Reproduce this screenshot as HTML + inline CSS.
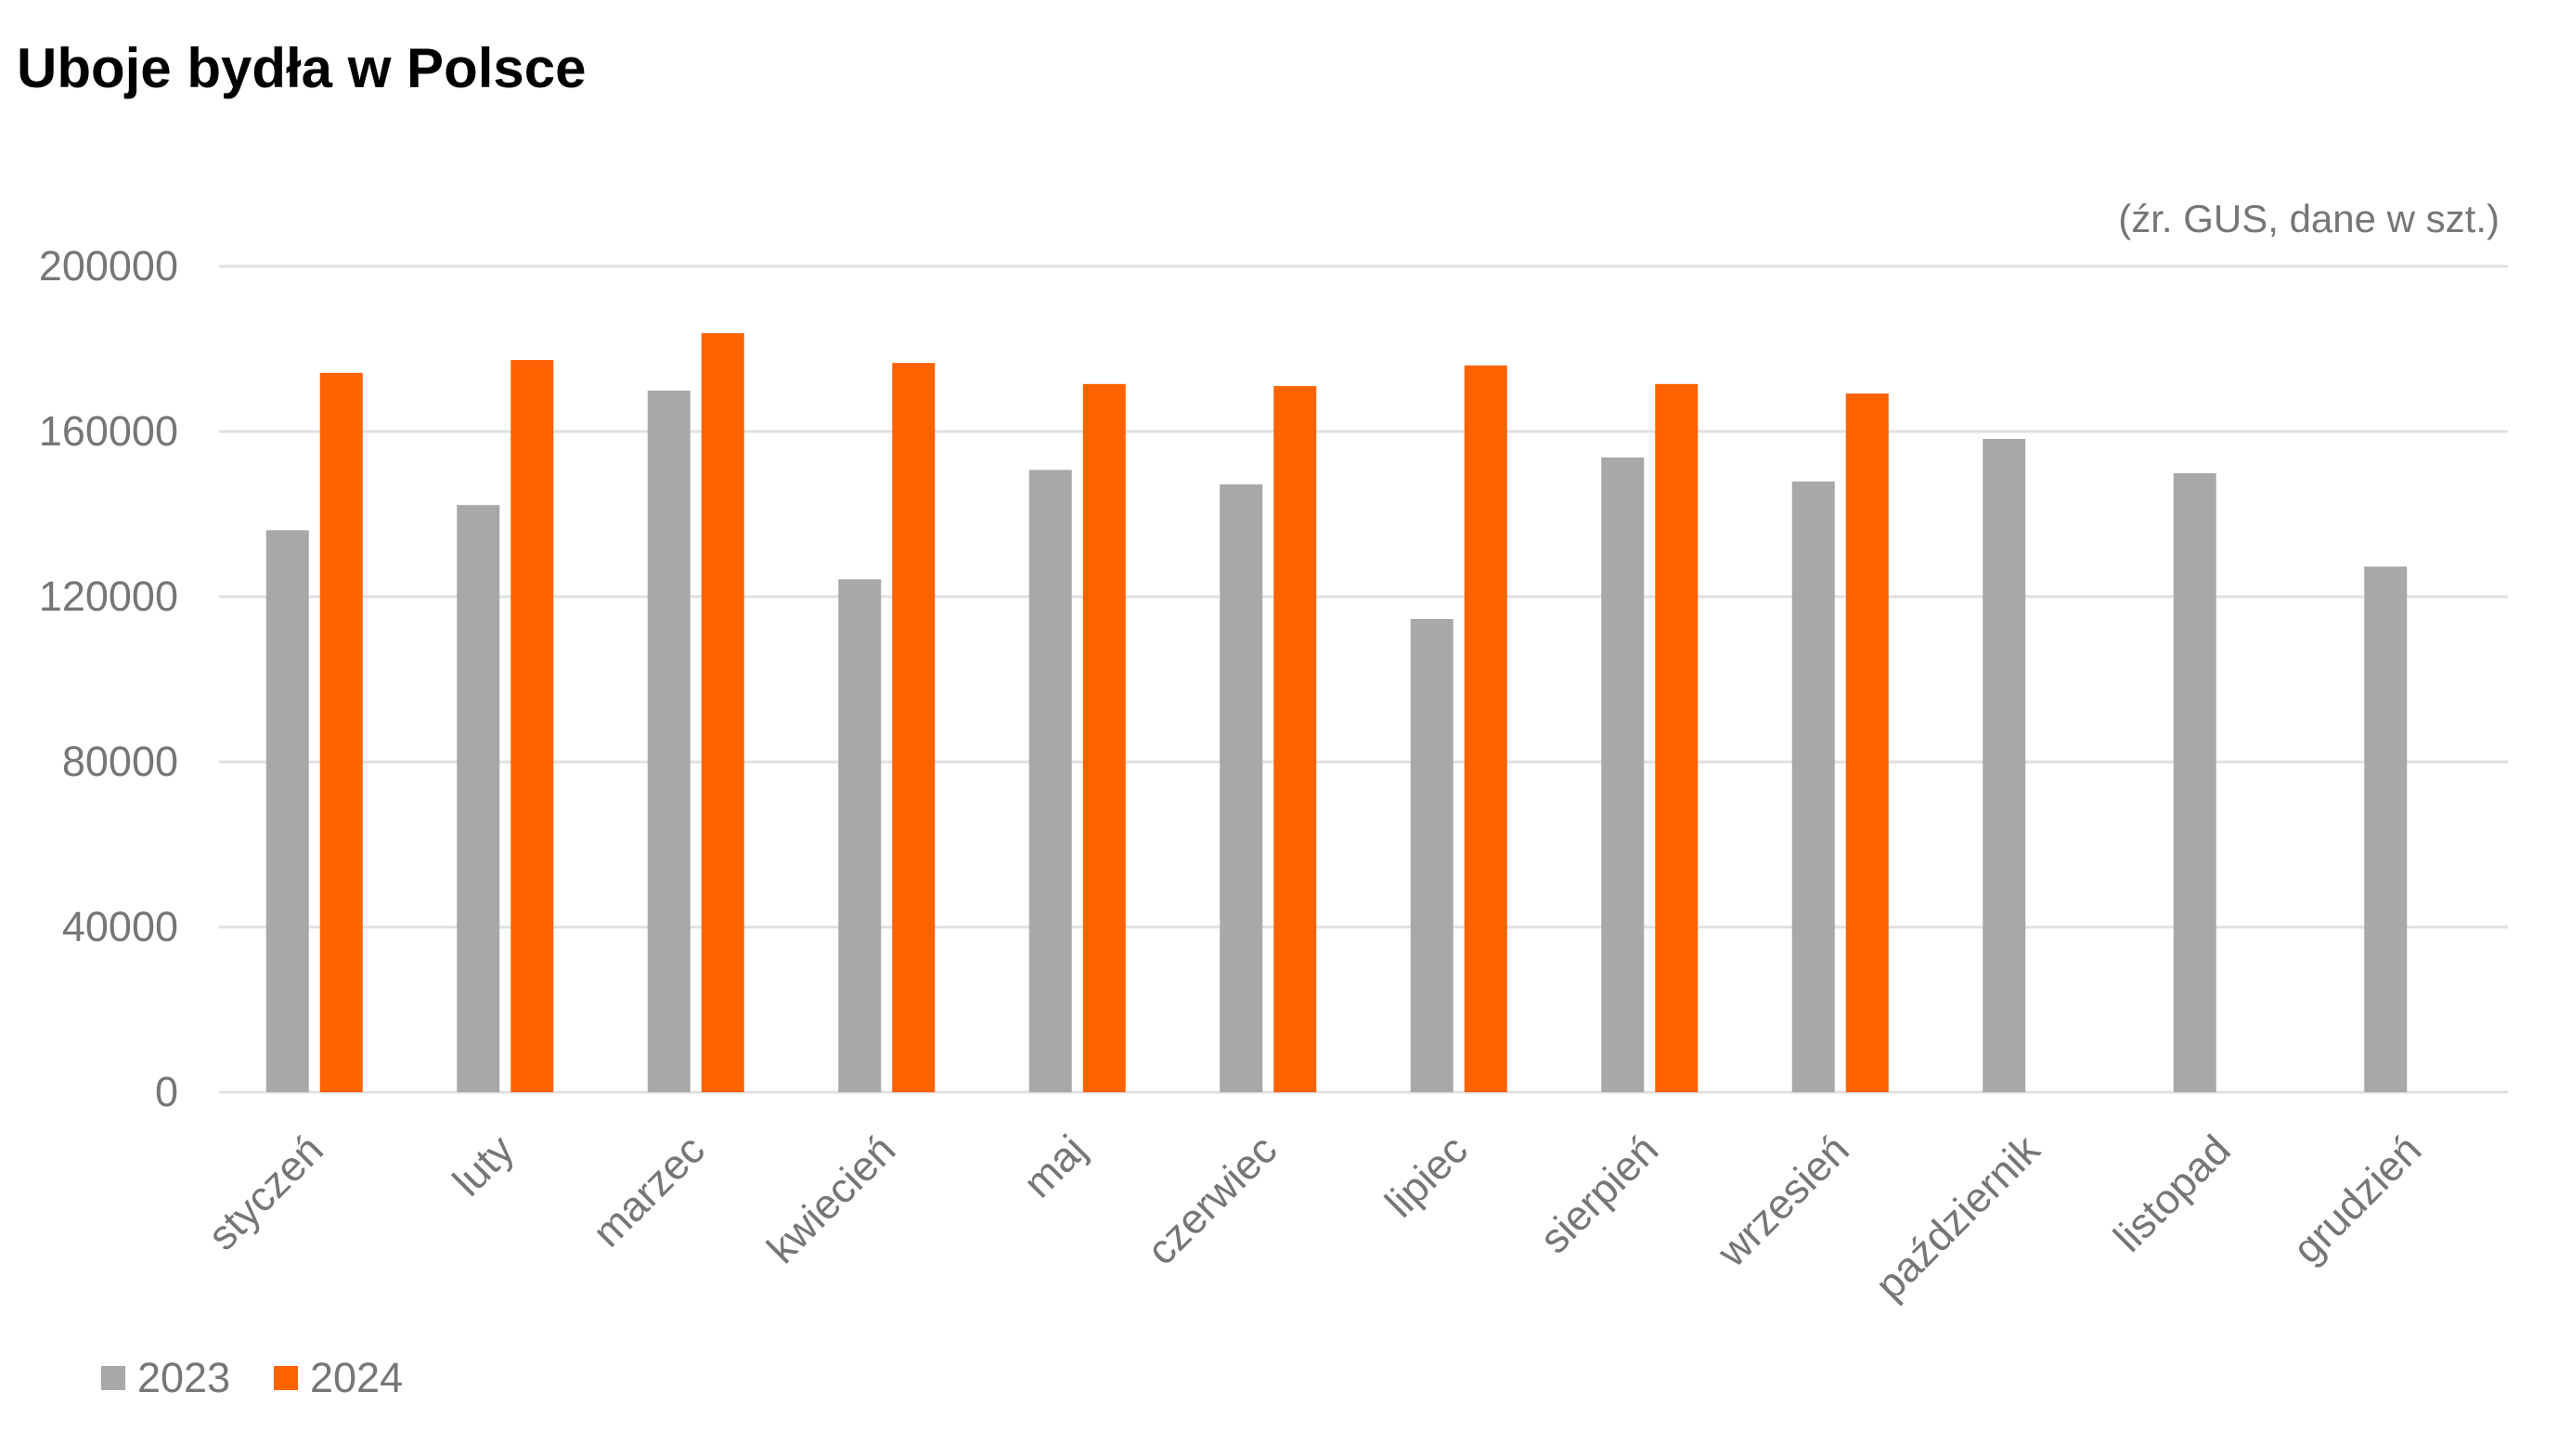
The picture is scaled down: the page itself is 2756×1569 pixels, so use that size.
<!DOCTYPE html>
<html><head><meta charset="utf-8"><style>
html,body{margin:0;padding:0;background:#fff;}
svg{display:block;}
text{font-family:"Liberation Sans","DejaVu Sans",sans-serif;}
</style></head><body>
<svg width="2756" height="1569" viewBox="0 0 2756 1569" xmlns="http://www.w3.org/2000/svg">
<rect width="2756" height="1569" fill="#fff"/>
<text x="18" y="94" font-size="60" font-weight="bold" fill="#000">Uboje bydła w Polsce</text>
<text x="2693" y="250" font-size="42" fill="#767676" text-anchor="end">(źr. GUS, dane w szt.)</text>
<g stroke="#e0e0e0" stroke-width="3">
<line x1="236" x2="2702" y1="287" y2="287"/>
<line x1="236" x2="2702" y1="465" y2="465"/>
<line x1="236" x2="2702" y1="643" y2="643"/>
<line x1="236" x2="2702" y1="821" y2="821"/>
<line x1="236" x2="2702" y1="999" y2="999"/>
<line x1="236" x2="2702" y1="1177" y2="1177"/>
</g>
<g font-size="45" fill="#767676" text-anchor="end">
<text x="192" y="302">200000</text>
<text x="192" y="480">160000</text>
<text x="192" y="658">120000</text>
<text x="192" y="836">80000</text>
<text x="192" y="1014">40000</text>
<text x="192" y="1192">0</text>
</g>
<g id="bars"></g>
<g id="labels" font-size="45" fill="#767676" text-anchor="end"></g>
<rect x="109" y="1472" width="26" height="26" fill="#a8a8a8"/>
<text x="148" y="1500" font-size="45" fill="#767676">2023</text>
<rect x="295" y="1472" width="26" height="26" fill="#ff6200"/>
<text x="334" y="1500" font-size="45" fill="#767676">2024</text>
<script>
var g=[136100,142200,169900,124200,150700,147200,114600,153700,147900,158200,149900,127300];
var o=[174200,177300,183800,176600,171500,171000,176000,171500,169200,null,null,null];
var m=["styczeń","luty","marzec","kwiecień","maj","czerwiec","lipiec","sierpień","wrzesień","październik","listopad","grudzień"];
var ns="http://www.w3.org/2000/svg",b=document.getElementById("bars"),l=document.getElementById("labels");
function r(x,v,c){var h=v/40000*178;var e=document.createElementNS(ns,"rect");e.setAttribute("x",x);e.setAttribute("y",1177-h);e.setAttribute("width",46);e.setAttribute("height",h);e.setAttribute("fill",c);b.appendChild(e);}
for(var i=0;i<12;i++){var c=236+(i+0.5)*205.5;r(c-52,g[i],"#a8a8a8");if(o[i])r(c+6,o[i],"#ff6200");
var t=document.createElementNS(ns,"text");var x=c+12,y=1242;t.setAttribute("x",x);t.setAttribute("y",y);t.setAttribute("transform","rotate(-45 "+x+" "+y+")");t.textContent=m[i];l.appendChild(t);}
</script>
</svg>
</body></html>
